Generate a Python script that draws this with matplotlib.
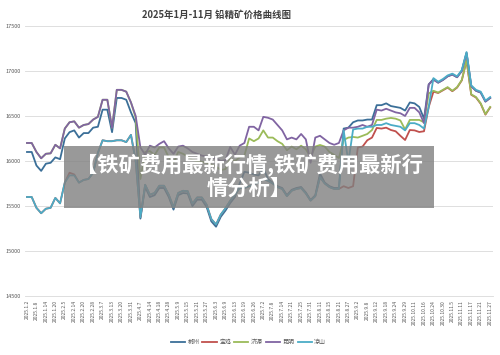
import matplotlib
matplotlib.use('agg')
import matplotlib.pyplot as plt
from matplotlib.patches import Rectangle

plt.rcParams['font.family'] = ['Noto Sans CJK SC', 'DejaVu Sans']

TITLE = "2025年1月-11月 铅精矿价格曲线图"
WATERMARK = "【铁矿费用最新行情,铁矿费用最新行\n情分析】"

date_labels = [
    "2025.1.2", "2025.1.8", "2025.1.14", "2025.1.20", "2025.2.5", "2025.2.14", "2025.2.20",
    "2025.2.28", "2025.3.7", "2025.3.13", "2025.3.20", "2025.3.31", "2025.4.7", "2025.4.14",
    "2025.4.18", "2025.4.28", "2025.5.9", "2025.5.15", "2025.5.21", "2025.5.27", "2025.6.3",
    "2025.6.9", "2025.6.13", "2025.6.19", "2025.6.26", "2025.7.2", "2025.7.8", "2025.7.14",
    "2025.7.21", "2025.7.25", "2025.7.31", "2025.8.11", "2025.8.15", "2025.8.21", "2025.8.27",
    "2025.9.2", "2025.9.8", "2025.9.12", "2025.9.18", "2025.9.24", "2025.9.29", "2025.10.11",
    "2025.10.16", "2025.10.24", "2025.10.30", "2025.11.5", "2025.11.11", "2025.11.17",
    "2025.11.21", "2025.11.27",
]

# prices, two samples per labelled date
chenzhou = [
    16100, 16100, 15950, 15890, 15970, 15980, 16040, 16020, 16250, 16320, 16340, 16260, 16310,
    16310, 16370, 16380, 16570, 16570, 16320, 16700, 16700, 16680, 16540, 16420,
    15360, 15711, 15600, 15620, 15700, 15700, 15600, 15460, 15620, 15644, 15640, 15500, 15570,
    15570, 15490, 15330, 15270, 15380, 15450, 15533, 15600, 15750,
    15880, 15870, 15850, 15840, 15920, 15800, 15760, 15720, 15700, 15620, 15680, 15700, 15711,
    15650, 15567, 15620, 15860, 15760, 15720, 15700, 15700,
    16360, 16370, 16430, 16450, 16450, 16460, 16460, 16620, 16620, 16640, 16610, 16600, 16590,
    16560, 16650, 16640, 16600, 16470, 16850, 16910, 16870, 16900, 16940, 16960, 16930, 17000,
    17200, 16830, 16780, 16760, 16660, 16700,
]
baoji = [
    15600, 15600, 15480, 15420, 15470, 15480, 15590, 15530, 15760, 15870, 15850, 15760, 15790,
    15800, 15870, 16090, 16230, 16220, 16220, 16230, 16230, 16210, 16290, 16000,
    15375, 15736, 15625, 15645, 15725, 15725, 15625, 15485, 15645, 15669, 15665, 15525, 15595,
    15595, 15515, 15355, 15295, 15405, 15475, 15558, 15625, 15700,
    15700, 15720, 15740, 15760, 15800, 15780, 15750, 15710, 15690, 15610, 15670, 15690, 15700,
    15640, 15560, 15610, 15820, 15750, 15710, 15690, 15690,
    15720, 15700, 15720, 16150, 16160, 16230, 16260, 16367, 16360, 16370, 16344, 16330, 16280,
    16233, 16344, 16340, 16322, 16330, 16600, 16770, 16755, 16785, 16815, 16775, 16815, 16895,
    17115, 16735, 16705, 16635, 16515, 16595,
]
jiyuan = [
    16200, 16200, 16100, 16030, 16080, 16085, 16180, 16140, 16360, 16430, 16440, 16370, 16400,
    16410, 16460, 16490, 16680, 16680, 16370, 16790, 16790, 16770, 16650, 16480,
    15800, 16100, 16110, 16067, 16150, 16150, 16040, 15980, 16100, 16080, 16050, 16010, 16000,
    15990, 15980, 15960, 15940, 15900, 15910, 16030, 16000, 16040, 16060,
    16250, 16220, 16250, 16340, 16260, 16260, 16220, 16190, 16120, 16160, 16130, 16170, 16130,
    16044, 16160, 16178, 16160, 16100, 16067, 16033,
    16233, 16260, 16267, 16260, 16280, 16300, 16344, 16456, 16456, 16470, 16478, 16470, 16450,
    16350, 16456, 16456, 16456, 16430, 16750, 16780, 16760, 16790, 16820, 16780, 16820, 16900,
    17120, 16740, 16710, 16640, 16520, 16600,
]
kunming = [
    16200, 16200, 16100, 16030, 16080, 16085, 16180, 16140, 16360, 16430, 16440, 16370, 16400,
    16410, 16460, 16490, 16680, 16680, 16370, 16790, 16790, 16770, 16650, 16500,
    16150, 16070, 16170, 16150, 16190, 16220, 16140, 16080, 16160, 16170, 16140, 16100, 16080,
    16060, 16050, 16040, 16030, 16000, 16010, 16156, 16070, 16170, 16200,
    16380, 16380, 16340, 16490, 16480, 16460, 16400, 16340, 16240, 16260, 16240, 16300, 16240,
    15980, 16260, 16280, 16240, 16200, 16180, 16200, 16340, 16370, 16370, 16380, 16400, 16380,
    16400,
    16570, 16560, 16580, 16560, 16540, 16530, 16500, 16590, 16590, 16540, 16420, 16850, 16900,
    16870, 16900, 16940, 16960, 16930, 17000, 17200, 16830, 16780, 16760, 16660, 16700,
]
liangshan = [
    15600, 15600, 15480, 15420, 15470, 15480, 15590, 15530, 15760, 15840, 15840, 15760, 15790,
    15800, 15870, 16090, 16230, 16220, 16220, 16230, 16230, 16210, 16290, 16000,
    15375, 15736, 15625, 15645, 15725, 15725, 15625, 15485, 15645, 15669, 15665, 15525, 15595,
    15595, 15515, 15355, 15295, 15405, 15475, 15558, 15625, 15700,
    15700, 15720, 15740, 15760, 15800, 15780, 15750, 15710, 15690, 15610, 15670, 15690, 15700,
    15640, 15560, 15610, 15820, 15750, 15710, 15690, 15690,
    16340, 15990, 16350, 16360, 16360, 16380, 16380, 16400, 16400, 16420, 16400, 16390, 16380,
    16340, 16420, 16420, 16400, 16360, 16600, 16920, 16880, 16910, 16950, 16970, 16940, 17010,
    17210, 16840, 16790, 16770, 16670, 16710,
]

series = [
    ("郴州", chenzhou, "#3b6f98"),
    ("宝鸡", baoji, "#c0504d"),
    ("济源", jiyuan, "#9bbb59"),
    ("昆明", kunming, "#8064a2"),
    ("凉山", liangshan, "#4bacc6"),
]

fig = plt.figure(figsize=(5, 3.55), dpi=100)
ax = fig.add_axes([0.05, 0.166, 0.936, 0.761])

x = list(range(len(chenzhou)))
for name, vals, color in series:
    ax.plot(x, vals, color=color, lw=1.3, label=name, solid_joinstyle='round')

ax.set_ylim(14500, 17500)
ax.set_yticks([14500, 15000, 15500, 16000, 16500, 17000, 17500])
ax.set_xlim(-0.42, 98.6)
ax.set_xticks(range(0, len(chenzhou), 2))
ax.set_xticklabels(date_labels, rotation=90, fontsize=3.6, color="#595959")
ax.tick_params(axis='y', labelsize=4, colors="#595959", length=0, pad=3)
ax.tick_params(axis='x', length=0, pad=3)
ax.grid(axis='y', color="#d9d9d9", lw=0.6)
ax.set_axisbelow(True)
for side in ['top', 'right', 'left']:
    ax.spines[side].set_visible(False)
ax.spines['bottom'].set_color("#d9d9d9")
ax.spines['bottom'].set_linewidth(0.6)

fig.text(0.433, 0.958, TITLE, ha='center', va='center', fontsize=6.8,
         fontweight='bold', color="#404040")

fig.legend(loc='center', bbox_to_anchor=(0.497, 0.037), ncol=5, frameon=False,
           fontsize=4.3, handlelength=2.4, columnspacing=0.5, handletextpad=0.4,
           labelcolor="#595959")

# grey overlay banner
fig.patches.append(Rectangle((0.128, 0.414), 0.74, 0.175, transform=fig.transFigure,
                             facecolor="#808080", alpha=0.8, edgecolor='none', zorder=5))
fig.text(0.498, 0.505, WATERMARK, ha='center', va='center', fontsize=15.3,
         fontweight='bold', color='white', linespacing=1.1, zorder=6)

fig.savefig("out.png", dpi=100)
